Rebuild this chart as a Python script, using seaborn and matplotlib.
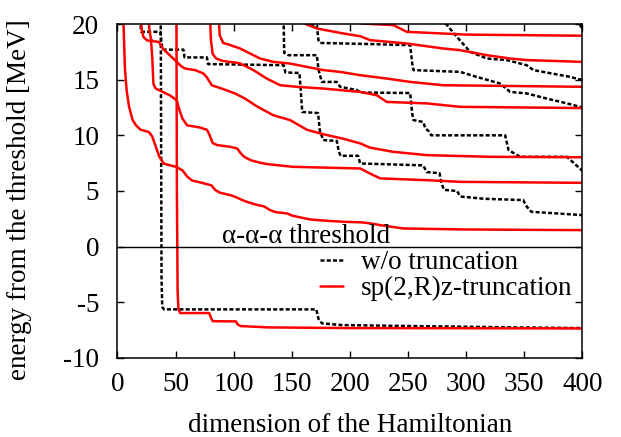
import matplotlib
matplotlib.use("Agg")
import matplotlib.pyplot as plt
import seaborn as sns
from matplotlib.lines import Line2D

# eigenvalue curves: (dimension, energy)
# w/o truncation (black dotted)
bare0 = ([37.3, 37.6, 38.0, 38.6, 40.0, 171.0, 173.0, 176.0, 193.0, 256.0, 342.0, 400.0],
         [21.0, 10.0, -3.0, -5.4, -5.64, -5.64, -6.5, -6.9, -7.05, -7.14, -7.26, -7.32])
bare1 = ([19.0, 20.5, 37.0, 37.8, 38.8, 56.8, 57.8, 77.0, 78.0, 143.0, 144.5, 156.6, 157.5, 159.0,
          172.6, 174.0, 177.0, 188.7, 190.5, 192.0, 207.0, 208.8, 263.0, 266.0, 277.0, 279.0, 281.0,
          292.0, 295.0, 315.0, 349.0, 352.0, 356.0, 400.0],
         [21.0, 19.3, 19.3, 18.5, 17.7, 17.7, 17.0, 17.0, 16.4, 16.3, 15.65, 15.6, 14.3, 12.1,
          12.0, 10.5, 9.57, 9.5, 8.5, 8.16, 8.16, 7.47, 7.3, 6.7, 6.6, 5.6, 5.1,
          5.0, 4.5, 4.3, 4.18, 3.6, 3.13, 2.83])
bare2 = ([142.8, 143.5, 147.0, 171.5, 173.0, 175.8, 188.7, 191.6, 206.0, 209.0, 251.8, 253.5, 254.6,
          263.0, 265.0, 267.5, 270.0, 333.5, 336.4, 346.4, 386.6, 400.0],
         [21.0, 17.4, 17.2, 17.2, 15.9, 14.8, 14.8, 14.36, 14.06, 13.85, 13.8, 12.0, 11.37,
          11.2, 10.6, 10.4, 10.0, 10.0, 8.67, 8.07, 8.07, 6.8])
bare3 = ([158.0, 158.6, 171.5, 172.9, 174.5, 217.4, 251.8, 253.5, 254.6, 294.8, 309.0, 329.0, 337.8,
          352.2, 369.4, 386.6, 400.0],
         [21.0, 20.1, 19.9, 18.55, 18.3, 18.2, 18.1, 16.5, 15.86, 15.7, 15.25, 14.66, 13.9,
          13.76, 13.3, 12.87, 12.5])
bare4 = ([281.0, 281.9, 292.0, 303.4, 317.8, 335.0, 352.0, 357.9, 389.4, 400.0],
         [20.6, 20.1, 18.85, 17.5, 16.9, 16.76, 16.3, 15.86, 15.25, 14.96])
bare5 = ([395.0, 397.0, 400.0],
         [21.0, 20.0, 19.6])

# sp(2,R)z-truncation (red)
sp0 = ([50.8, 51.2, 51.8, 52.5, 54.0, 79.0, 80.5, 82.0, 102.0, 103.5, 106.0, 130.0, 200.0, 400.0],
       [21.0, 5.0, -4.0, -5.6, -5.97, -5.97, -6.4, -6.7, -6.72, -7.0, -7.14, -7.26, -7.32, -7.35])
sp1 = ([5.0, 5.6, 6.5, 8.0, 10.0, 13.0, 16.0, 20.0, 27.0, 30.0, 33.0, 36.0, 40.0, 51.0, 56.0, 60.0,
        64.0, 72.0, 81.0, 84.0, 88.0, 98.0, 103.0, 107.0, 112.0, 120.0, 126.0, 131.0, 136.0, 146.0,
        150.0, 156.0, 166.0, 180.0, 195.0, 210.0, 218.0, 226.0, 246.0, 300.0, 400.0],
       [21.0, 19.0, 16.0, 14.0, 12.6, 11.4, 10.9, 10.5, 10.3, 9.9, 9.0, 8.1, 7.45, 7.15, 6.85, 6.3,
        5.95, 5.75, 5.5, 5.1, 4.85, 4.6, 4.4, 4.2, 4.0, 3.75, 3.62, 3.3, 3.1, 2.98,
        2.8, 2.65, 2.44, 2.32, 2.23, 2.18, 2.08, 1.93, 1.63, 1.54, 1.48])
sp2 = ([19.8, 21.0, 22.4, 25.3, 29.0, 30.0, 31.0, 33.0, 37.0, 45.0, 51.0, 53.0, 56.0, 60.0, 71.0,
        77.0, 79.0, 82.0, 86.0, 97.0, 103.0, 106.0, 109.0, 115.0, 123.0, 130.0, 151.0, 209.0, 217.0,
        226.0, 266.0, 295.0, 400.0],
       [21.0, 19.5, 18.85, 18.55, 18.45, 17.0, 14.6, 14.2, 14.0, 13.6, 13.16, 12.4, 11.5, 10.9, 10.7,
        10.5, 10.1, 9.3, 9.12, 8.97, 8.82, 8.4, 8.07, 7.75, 7.53, 7.4, 7.17, 7.02, 6.58,
        6.13, 5.97, 5.82, 5.73])
sp3 = ([26.7, 27.5, 29.0, 31.0, 35.3, 37.0, 39.0, 45.0, 51.1, 55.0, 58.2, 66.8, 74.0, 77.0, 81.2,
        89.8, 101.2, 109.8, 120.0, 134.2, 148.5, 163.0, 177.0, 194.0, 209.0, 217.0, 237.0, 266.0,
        320.0, 400.0],
       [21.0, 19.5, 18.6, 18.45, 18.4, 18.2, 17.8, 17.2, 16.6, 16.2, 16.0, 15.86, 15.56, 15.2, 14.5,
        14.2, 13.76, 13.3, 12.6, 11.8, 11.37, 10.5, 10.1, 9.7, 9.27, 8.9, 8.52, 8.22,
        8.07, 8.03])
sp4 = ([79.5, 80.5, 82.0, 85.0, 90.0, 96.0, 101.0, 105.6, 117.0, 128.5, 140.0, 154.3, 177.2, 209.0,
        223.0, 231.7, 266.0, 294.8, 400.0],
       [21.0, 18.5, 17.3, 16.9, 16.7, 16.6, 16.55, 16.46, 15.86, 15.1, 14.5, 14.36, 14.2, 13.9,
        13.6, 13.0, 12.87, 12.56, 12.45])
sp5 = ([86.9, 88.0, 91.0, 96.0, 100.0, 105.6, 114.0, 122.8, 134.2, 148.5, 162.9, 177.2, 191.6,
        209.0, 231.7, 251.8, 280.4, 400.0],
       [21.0, 19.0, 18.3, 18.15, 18.0, 17.8, 17.36, 16.9, 16.6, 16.45, 16.15, 15.86, 15.7,
        15.4, 15.1, 14.8, 14.5, 14.36])
sp6 = ([158.0, 162.0, 171.5, 194.4, 209.0, 217.4, 249.0, 280.4, 294.8, 317.8, 337.8, 352.2, 400.0],
       [21.0, 20.0, 19.6, 19.15, 18.9, 18.55, 18.25, 17.8, 17.65, 17.2, 16.9, 16.76, 16.6])
sp7 = ([200.0, 210.0, 237.4, 246.0, 249.0, 300.0, 400.0],
       [20.6, 20.05, 19.9, 19.45, 19.3, 19.05, 18.95])

bare_curves = [bare0, bare1, bare2, bare3, bare4, bare5]
sp_curves = [sp0, sp1, sp2, sp3, sp4, sp5, sp6, sp7]

x_ticks = [0, 50, 100, 150, 200, 250, 300, 350, 400]
y_ticks = [-10, -5, 0, 5, 10, 15, 20]

FS = 19.5

sns.set_style("ticks")
plt.rcParams["font.family"] = ["Liberation Serif", "DejaVu Serif"]
plt.rcParams["axes.unicode_minus"] = False
for key in ("text.color", "axes.labelcolor", "xtick.color", "ytick.color", "axes.edgecolor"):
    plt.rcParams[key] = "black"

fig = plt.figure(figsize=(6.21, 4.37), dpi=100)
ax = fig.add_axes([0.189, 0.181, 0.749, 0.764])

dotted = (0, (1.6, 0.9))
for dim, energy in bare_curves:
    sns.lineplot(x=dim, y=energy, sort=False, estimator=None, color="black",
                 lw=1.8, linestyle=dotted, ax=ax)
for dim, energy in sp_curves:
    sns.lineplot(x=dim, y=energy, sort=False, estimator=None, color="#ff0000",
                 lw=1.8, ax=ax)

ax.axhline(0, color="black", lw=1.0)
ax.text(90, 0.3, "\u03b1-\u03b1-\u03b1 threshold", fontsize=FS, ha="left", va="baseline")

ax.set_xlim(0, 400)
ax.set_ylim(-10, 20)
ax.set_xticks(x_ticks)
ax.set_yticks(y_ticks)
ax.tick_params(direction="in", length=5, width=1.0, top=True, right=True, labelsize=FS)
ax.tick_params(axis="x", pad=10)
ax.tick_params(axis="y", pad=13)
for spine in ax.spines.values():
    spine.set_visible(True)
    spine.set_linewidth(1.1)
    spine.set_color("black")

ax.set_xlabel("dimension of the Hamiltonian", fontsize=FS, labelpad=12)
ax.set_ylabel("energy from the threshold [MeV]", fontsize=FS)
ax.yaxis.set_label_coords(-0.184, 0.475)

handles = [
    Line2D([], [], color="black", lw=1.8, linestyle=dotted),
    Line2D([], [], color="#ff0000", lw=1.8),
]
ax.legend(handles, ["w/o truncation", "sp(2,R)z-truncation"], loc="upper left",
          bbox_to_anchor=(0.436, 0.322), frameon=False, fontsize=FS,
          handlelength=0.85, handletextpad=0.65, labelspacing=0.02, borderpad=0.0,
          borderaxespad=0.0)

fig.savefig("out.png", dpi=100)
